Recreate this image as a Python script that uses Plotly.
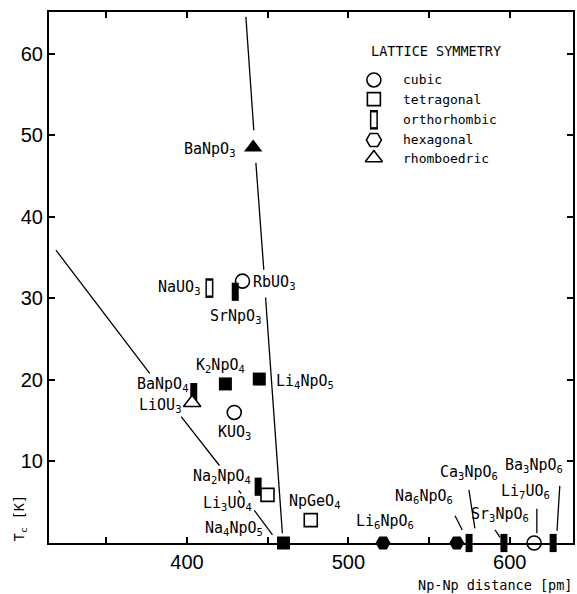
import re
import plotly.graph_objects as go

# Compounds: Np-Np distance (pm), ordering temperature Tc (K), lattice symmetry, filled marker
names = ["BaNpO3", "NaUO3", "RbUO3", "SrNpO3", "K2NpO4", "Li4NpO5", "BaNpO4", "LiOU3",
         "KUO3", "Na2NpO4", "Li3UO4", "Na4NpO5", "NpGeO4", "Li6NpO6", "Na6NpO6",
         "Ca3NpO6", "Sr3NpO6", "Li7UO6", "Ba3NpO6"]
distance = [441.0, 413.9, 434.4, 429.9, 423.8, 444.8, 404.2, 403.2,
            429.3, 444.1, 449.9, 459.8, 476.7, 521.5, 567.2,
            574.8, 596.4, 615.1, 626.9]
tc = [48.5, 31.25, 32.1, 30.8, 19.5, 20.1, 18.5, 17.2,
      16.0, 6.9, 5.9, 0.0, 2.8, 0.0, 0.0,
      0.0, 0.0, 0.0, 0.0]
symmetry = ["rhomboedric", "orthorhombic", "cubic", "orthorhombic", "tetragonal", "tetragonal",
            "orthorhombic", "rhomboedric", "cubic", "orthorhombic", "tetragonal", "tetragonal",
            "tetragonal", "hexagonal", "hexagonal", "orthorhombic", "orthorhombic", "cubic",
            "orthorhombic"]
filled = [True, False, False, True, True, True, True, False,
          False, True, False, True, False, True, True,
          True, True, False, True]

# Trend lines (None separates the visible pieces)
steep_x = [436.5, 441.4, None, 442.7, 447.6, None, 448.7, 459.1]
steep_y = [64.5, 50.6, None, 46.6, 33.5, None, 30.1, 1.2]
diag_x = [318.8, 376.9, None, 396.4, 420.1, None, 432.0, 433.5, None, 441.7, 453.0]
diag_y = [35.9, 20.8, None, 15.5, 9.5, None, 6.45, 6.07, None, 4.0, 1.0]

# Leader lines from labels to the points on the axis
leader_x = [566.1, 570.6, None, 574.7, 578.4, None, 590.9, 594.0, None,
            616.8, 616.8, None, 631.0, 629.3]
leader_y = [3.35, 1.6, None, 6.5, 1.8, None, 1.6, 0.7, None,
            4.2, 1.2, None, 7.0, 1.5]

# Label placement (data units)
label_pos = {
    "BaNpO3": (413.9, 48.2), "NaUO3": (394.8, 31.3), "RbUO3": (454.0, 31.9),
    "SrNpO3": (429.9, 27.8), "K2NpO4": (420.7, 21.8), "Li4NpO5": (473.1, 19.8),
    "BaNpO4": (384.9, 19.4), "LiOU3": (383.0, 16.9), "KUO3": (429.3, 13.5),
    "Na2NpO4": (421.9, 8.1), "Li3UO4": (425.0, 4.8), "Na4NpO5": (429.3, 1.75),
    "NpGeO4": (479.3, 5.06), "Li6NpO6": (522.5, 2.6), "Na6NpO6": (546.6, 5.7),
    "Ca3NpO6": (575.0, 8.6), "Sr3NpO6": (594.1, 3.5), "Li7UO6": (609.6, 6.3),
    "Ba3NpO6": (615.1, 9.5),
}

legend_names = ["cubic", "tetragonal", "orthorhombic", "hexagonal", "rhomboedric"]

LABEL_FONT = dict(family="DejaVu Sans Mono", size=15, color="black")
TICK_FONT = dict(family="Liberation Sans", size=20, color="black")


def chem(s):
    return re.sub(r"(\d+)", r"<sub>\1</sub>", s)


def marker_layers(sym, full):
    """Return a list of marker dicts drawn on top of each other."""
    if sym == "cubic":
        if full:
            return [dict(symbol="circle", size=14, color="black")]
        return [dict(symbol="circle-open", size=14, color="black", line=dict(width=1.6, color="black"))]
    if sym == "tetragonal":
        if full:
            return [dict(symbol="square", size=13, color="black")]
        return [dict(symbol="square", size=13, color="white", line=dict(width=1.6, color="black"))]
    if sym == "hexagonal":
        if full:
            return [dict(symbol="hexagon2", size=15, color="black")]
        return [dict(symbol="hexagon2-open", size=15, color="black", line=dict(width=1.6, color="black"))]
    if sym == "rhomboedric":
        if full:
            return [dict(symbol="triangle-up", size=16, color="black")]
        return [dict(symbol="triangle-up", size=15, color="white", line=dict(width=1.6, color="black"))]
    # orthorhombic: a tall narrow rectangle built from a thick vertical stroke
    if full:
        return [dict(symbol="line-ns", size=13, color="black", line=dict(width=7, color="black"))]
    return [dict(symbol="line-ns", size=14, color="black", line=dict(width=8, color="black")),
            dict(symbol="line-ns", size=10.5, color="white", line=dict(width=5, color="white"))]


fig = go.Figure()

for lx, ly in [(steep_x, steep_y), (diag_x, diag_y), (leader_x, leader_y)]:
    fig.add_trace(go.Scatter(x=lx, y=ly, mode="lines", connectgaps=False,
                             line=dict(color="black", width=1.3),
                             hoverinfo="skip", showlegend=False))

# Data points, one trace per (symmetry, fill) group
groups = {}
for i in range(len(names)):
    groups.setdefault((symmetry[i], filled[i]), []).append(i)
for (sym, full), idx in groups.items():
    for mk in marker_layers(sym, full):
        fig.add_trace(go.Scatter(
            x=[distance[i] for i in idx], y=[tc[i] for i in idx],
            text=[names[i] for i in idx], mode="markers", marker=mk,
            cliponaxis=False, showlegend=False, hoverinfo="text+x+y"))

# Compound labels
for n in names:
    px, py = label_pos[n]
    fig.add_annotation(x=px, y=py, text=chem(n), showarrow=False,
                       font=LABEL_FONT, xanchor="center", yanchor="middle")

# Symmetry key drawn on an overlay frame spanning the plot area
key_x = 0.620
key_y = [0.872, 0.836, 0.797, 0.759, 0.725]
for k, sym in enumerate(legend_names):
    for mk in marker_layers(sym, False):
        fig.add_trace(go.Scatter(x=[key_x], y=[key_y[k]], mode="markers", marker=mk,
                                 xaxis="x2", yaxis="y2", cliponaxis=False,
                                 showlegend=False, hoverinfo="skip"))
    fig.add_annotation(xref="paper", yref="paper", x=0.671, y=key_y[k], text=sym,
                       showarrow=False, xanchor="left", yanchor="middle",
                       font=dict(family="DejaVu Sans Mono", size=13, color="black"))
fig.add_annotation(xref="paper", yref="paper", x=0.738, y=0.927, text="LATTICE SYMMETRY",
                   showarrow=False, xanchor="center", yanchor="middle",
                   font=dict(family="DejaVu Sans Mono", size=13.5, color="black"))

# Axis titles
fig.add_annotation(xref="paper", yref="paper", x=1.002, y=-0.079,
                   text="Np-Np distance [pm]", showarrow=False,
                   xanchor="right", yanchor="middle",
                   font=dict(family="DejaVu Sans Mono", size=13.5, color="black"))
fig.add_annotation(xref="paper", yref="paper", x=-0.055, y=0.047,
                   text="T<sub>c</sub> [K]", showarrow=False, textangle=-90,
                   xanchor="center", yanchor="middle",
                   font=dict(family="DejaVu Sans Mono", size=13.5, color="black"))

axis_common = dict(showline=True, linewidth=2, linecolor="black", mirror="ticks",
                   ticks="inside", ticklen=6, tickwidth=1.5, tickcolor="black",
                   showgrid=False, zeroline=False, tickfont=TICK_FONT)

fig.update_layout(
    width=577, height=594,
    margin=dict(l=49, r=2, t=12, b=51),
    paper_bgcolor="white", plot_bgcolor="white",
    showlegend=False,
    xaxis=dict(range=[314.5, 639.2], tickvals=[350, 400, 450, 500, 550, 600],
               ticktext=["", "400", "", "500", "", "600"], **axis_common),
    yaxis=dict(range=[0, 65.1], tickvals=[10, 20, 30, 40, 50, 60], **axis_common),
    xaxis2=dict(overlaying="x", range=[0, 1], visible=False),
    yaxis2=dict(overlaying="y", range=[0, 1], visible=False),
)

fig.write_html("out.html")
